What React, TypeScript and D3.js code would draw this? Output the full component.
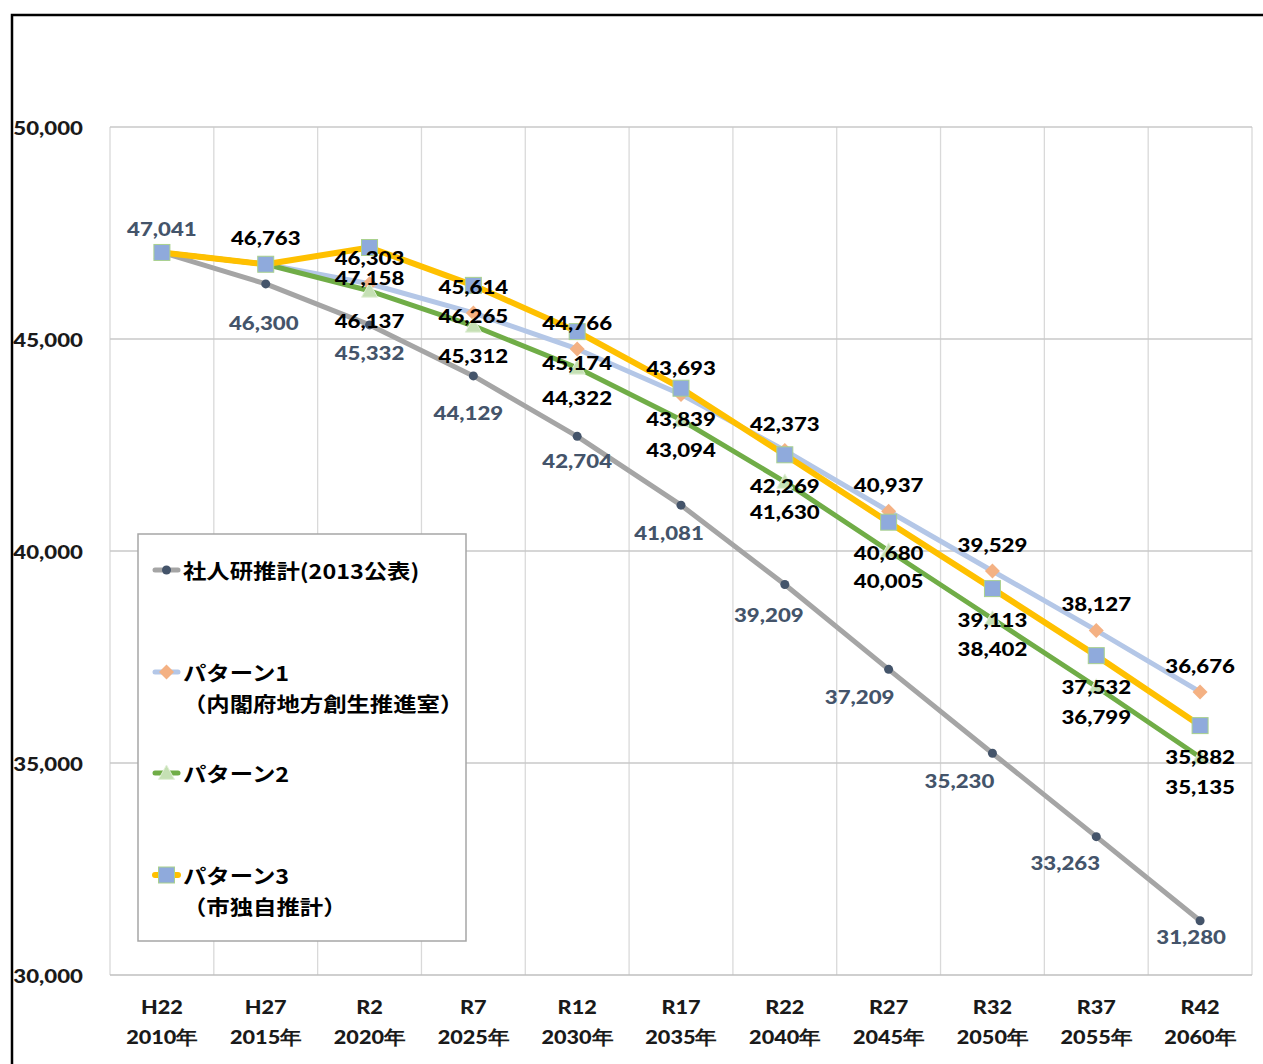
import React from "react";
import * as d3 from "d3";

const categoriesEra = ["H22", "H27", "R2", "R7", "R12", "R17", "R22", "R27", "R32", "R37", "R42"];
const categoriesYear = ["2010年", "2015年", "2020年", "2025年", "2030年", "2035年", "2040年", "2045年", "2050年", "2055年", "2060年"];
const ipss = [47041, 46300, 45332, 44129, 42704, 41081, 39209, 37209, 35230, 33263, 31280];
const pattern1 = [47041, 46763, 46303, 45614, 44766, 43693, 42373, 40937, 39529, 38127, 36676];
const pattern2 = [47041, 46763, 46137, 45312, 44322, 43094, 41630, 40005, 38402, 36799, 35135];
const pattern3 = [47041, 46763, 47158, 46265, 45174, 43839, 42269, 40680, 39113, 37532, 35882];
const yTicks = [30000, 35000, 40000, 45000, 50000];
const legendLines1 = ["社人研推計(2013公表)", "パターン1", "パターン2", "パターン3"];
const legendLines2 = ["", "（内閣府地方創生推進室）", "", "（市独自推計）"];

// label layout (manual label placement in the original)
const grayLabelDx = [0, -2, 0, -5, 0, -12, -16, -29, -33, -31, -9];
const grayLabelDy = [-24, 38, 27, 36, 24, 27, 30, 27, 27, 25, 15];

const W = 1263, H = 1064;
const plot = { left: 110, right: 1252, top: 127, bottom: 975 };
const SX = 1.14;
const numFont = "Lato, 'Open Sans', sans-serif";
const cjkFont = "'Noto Sans CJK JP', sans-serif";

export default function App() {
  const x = d3.scaleBand<string>().domain(categoriesEra).range([plot.left, plot.right]);
  const cx = (i: number) => (x(categoriesEra[i]) as number) + x.bandwidth() / 2;
  const y = d3.scaleLinear().domain([30000, 50000]).range([plot.bottom, plot.top]);
  const line = d3.line<number>().x((_, i) => cx(i)).y((d) => y(d)).curve(d3.curveLinear);

  const diamond = (px: number, py: number, r: number) => `M${px},${py - r}L${px + r},${py}L${px},${py + r}L${px - r},${py}Z`;
  const tri = (px: number, py: number, r: number) => `M${px},${py - r}L${px + r},${py + r * 0.8}L${px - r},${py + r * 0.8}Z`;

  const label = (key: string, px: number, py: number, text: string, color: string) => (
    <text key={key} transform={`translate(${px},${py}) scale(${SX},1)`} textAnchor="middle" dominantBaseline="central"
      fontFamily={numFont} fontWeight={900} fontSize={19.5} fill={color}>{text}</text>
  );
  const fmt = d3.format(",");

  const markerGray = (px: number, py: number, k: string) => <circle key={k} cx={px} cy={py} r={4.5} fill="#44546A" />;
  const markerP1 = (px: number, py: number, k: string) => <path key={k} d={diamond(px, py, 7.5)} fill="#F4B183" />;
  const markerP2 = (px: number, py: number, k: string) => <path key={k} d={tri(px, py, 8)} fill="#C5E0B4" stroke="#E2F0D9" strokeWidth={1} />;
  const markerP3 = (px: number, py: number, k: string) => <rect key={k} x={px - 8} y={py - 8} width={16} height={16} fill="#8FAADC" stroke="#A9D18E" strokeWidth={1} />;

  const series = [
    { data: ipss, color: "#A5A5A5", width: 5, marker: markerGray },
    { data: pattern1, color: "#B4C7E7", width: 5, marker: markerP1 },
    { data: pattern2, color: "#70AD47", width: 5, marker: markerP2 },
    { data: pattern3, color: "#FFC000", width: 6, marker: markerP3 },
  ];

  const legendX = 138, legendY = 534, legendW = 328, legendH = 407;
  const legendRows = [570, 672, 773, 875];

  return (
    <svg width={W} height={H} style={{ position: "absolute", left: 0, top: 0, background: "#fff" }}>
      <rect x={0} y={0} width={W} height={H} fill="#fff" />
      <rect x={12} y={15} width={W + 20} height={H + 20} fill="none" stroke="#000" strokeWidth={2.5} />
      {/* gridlines */}
      {categoriesEra.map((c, i) => (
        <line key={"v" + i} x1={x(c)} x2={x(c)} y1={plot.top} y2={plot.bottom} stroke="#D9D9D9" strokeWidth={1.3} />
      ))}
      <line x1={plot.right} x2={plot.right} y1={plot.top} y2={plot.bottom} stroke="#D9D9D9" strokeWidth={1.3} />
      {yTicks.map((t) => (
        <line key={"h" + t} x1={plot.left} x2={plot.right} y1={y(t)} y2={y(t)} stroke={t === 30000 ? "#BFBFBF" : "#C8C8C8"} strokeWidth={1.3} />
      ))}
      {/* y tick labels */}
      {yTicks.map((t) => (
        <text key={"yt" + t} transform={`translate(83,${y(t)}) scale(${SX},1)`} textAnchor="end" dominantBaseline="central"
          fontFamily={numFont} fontWeight={900} fontSize={19.5} fill="#1a1a1a">{fmt(t)}</text>
      ))}
      {/* x labels */}
      {categoriesEra.map((c, i) => (
        <g key={"xl" + i}>
          <text transform={`translate(${cx(i)},1007) scale(${SX},1)`} textAnchor="middle" dominantBaseline="central"
            fontFamily={numFont} fontWeight={900} fontSize={19} fill="#1a1a1a">{c}</text>
          <text transform={`translate(${cx(i)},1037) scale(${SX},1)`} textAnchor="middle" dominantBaseline="central"
            fontFamily={numFont} fontWeight={900} fontSize={19} fill="#1a1a1a">{categoriesYear[i]}</text>
        </g>
      ))}
      {/* series */}
      {series.map((s, si) => (
        <g key={"s" + si}>
          <path d={line(s.data) as string} fill="none" stroke={s.color} strokeWidth={s.width} strokeLinejoin="round" strokeLinecap="round" />
          {s.data.map((v, i) => s.marker(cx(i), y(v), "m" + si + "-" + i))}
        </g>
      ))}
      {/* data labels */}
      {ipss.map((v, i) => label("lg" + i, cx(i) + grayLabelDx[i], y(v) + grayLabelDy[i], fmt(v), "#44546A"))}
      {pattern1.map((v, i) => (i >= 1 ? label("l1" + i, cx(i), y(v) - 27, fmt(v), "#000") : null))}
      {pattern2.map((v, i) => (i >= 2 ? label("l2" + i, cx(i), y(v) + 29, fmt(v), "#000") : null))}
      {pattern3.map((v, i) => (i >= 2 ? label("l3" + i, cx(i), y(v) + 30, fmt(v), "#000") : null))}
      {/* legend */}
      <rect x={legendX} y={legendY} width={legendW} height={legendH} fill="#fff" stroke="#A6A6A6" strokeWidth={1.5} />
      {series.map((s, si) => {
        const ly = legendRows[si];
        return (
          <g key={"lg" + si}>
            <line x1={155} x2={178} y1={ly} y2={ly} stroke={s.color} strokeWidth={s.width} strokeLinecap="round" />
            {s.marker(166.5, ly, "lm" + si)}
            <text transform={`translate(183,${ly}) scale(${SX},1)`} dominantBaseline="central" fontFamily={cjkFont}
              fontWeight={700} fontSize={20.5} fill="#000">{legendLines1[si]}</text>
            {legendLines2[si] ? (
              <text transform={`translate(183,${ly + 31}) scale(${SX},1)`} dominantBaseline="central" fontFamily={cjkFont}
                fontWeight={700} fontSize={20.5} fill="#000">{legendLines2[si]}</text>
            ) : null}
          </g>
        );
      })}
    </svg>
  );
}
